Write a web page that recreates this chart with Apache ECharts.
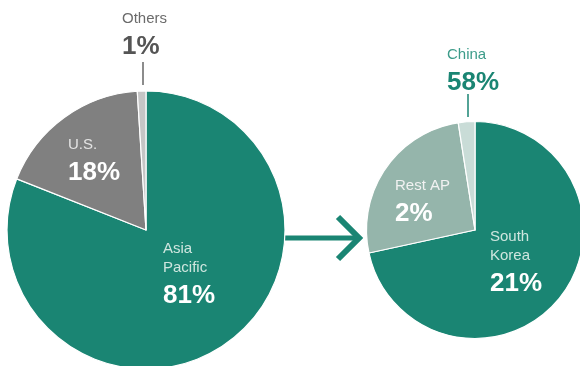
<!DOCTYPE html>
<html>
<head>
<meta charset="utf-8">
<script src="https://cdn.jsdelivr.net/npm/echarts@6/dist/echarts.min.js"></script>
<style>
  html, body { margin: 0; padding: 0; background: #ffffff; }
  #chart { width: 580px; height: 366px; }
</style>
</head>
<body>
<div id="chart"></div>
<script>
// Regional share of sales (left) and breakdown of Asia Pacific (right), in % of total
const regionNames = ['Asia Pacific', 'U.S.', 'Others'];
const regionValues = [81, 18, 1];
const apNames = ['China', 'South Korea', 'Rest AP'];
const apValues = [58, 21, 2];

const regionColors = ['#1a8573', '#808080', '#c6c6c6'];
const apColors = ['#1a8573', '#95b5ab', '#c9dcd7'];

// Label placement (top-left anchor of each label block) and text colours
const labelSpots = {
  'Asia Pacific': { x: 163, y: 239, name: '#cfe6df', value: '#ffffff' },
  'U.S.': { x: 68, y: 135, name: '#e4e4e4', value: '#ffffff' },
  'Others': { x: 122, y: 9, name: '#6b6b6b', value: '#555555' },
  'China': { x: 447, y: 45, name: '#3d9c8a', value: '#1a8573' },
  'South Korea': { x: 490, y: 227, name: '#cfe6df', value: '#ffffff' },
  'Rest AP': { x: 395, y: 176, name: '#f2f2f2', value: '#ffffff' }
};
const wrapped = { 'Asia Pacific': 'Asia\nPacific', 'South Korea': 'South\nKorea' };

const FONT = '"Liberation Sans", Arial, Helvetica, sans-serif';

function buildData(names, values, colors) {
  return names.map((n, i) => {
    const s = labelSpots[n];
    const nameText = (wrapped[n] || n).split('\n').map(t => '{n|' + t + '}').join('\n');
    return {
      name: n,
      value: values[i],
      itemStyle: { color: colors[i] },
      label: {
        formatter: nameText + '\n{v|' + values[i] + '%}',
        rich: {
          n: { fontFamily: FONT, fontSize: 15, lineHeight: 19, color: s.name },
          v: { fontFamily: FONT, fontSize: 26, fontWeight: 'bold', lineHeight: 37, color: s.value }
        }
      }
    };
  });
}

const chart = echarts.init(document.getElementById('chart'), null, { renderer: 'canvas' });

function pieSeries(names, values, colors, center, radius) {
  return {
    type: 'pie',
    center: center,
    radius: radius,
    startAngle: 90,
    clockwise: true,
    animation: false,
    silent: true,
    itemStyle: { borderColor: '#ffffff', borderWidth: 1.2 },
    label: { show: true, position: 'inside' },
    labelLine: { show: false },
    labelLayout: function (params) {
      const s = labelSpots[names[params.dataIndex]];
      return { x: s.x, y: s.y, align: 'left', verticalAlign: 'top', hideOverlap: false };
    },
    data: buildData(names, values, colors)
  };
}

chart.setOption({
  backgroundColor: '#ffffff',
  series: [
    pieSeries(regionNames, regionValues, regionColors, [146, 230], 139),
    pieSeries(apNames, apValues, apColors, [475, 230], 108.5)
  ],
  graphic: [
    // leader ticks for the small slices
    { type: 'line', shape: { x1: 143, y1: 62, x2: 143, y2: 85 }, style: { stroke: '#666666', lineWidth: 1.5 } },
    { type: 'line', shape: { x1: 468, y1: 94, x2: 468, y2: 117 }, style: { stroke: '#1a8573', lineWidth: 1.5 } },
    // arrow linking the Asia Pacific slice to its breakdown
    { type: 'line', z: -1, shape: { x1: 280, y1: 238, x2: 359, y2: 238 }, style: { stroke: '#1a8573', lineWidth: 5 } },
    { type: 'polyline', shape: { points: [[338, 217], [359, 238], [338, 259]] }, style: { stroke: '#1a8573', lineWidth: 6, fill: null, lineJoin: 'miter' } }
  ]
});
</script>
</body>
</html>
